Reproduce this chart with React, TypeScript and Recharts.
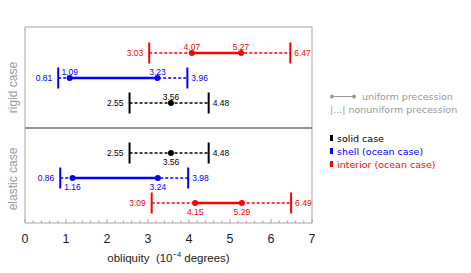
import React from "react";
import { ComposedChart, XAxis, YAxis, Scatter, ReferenceLine, ReferenceArea, ReferenceDot, Legend } from "recharts";

// rows from top to bottom: rigid case first, then elastic case
const rowKinds = ["interior", "shell", "solid", "solid", "shell", "interior"];
const rowCases = ["rigid", "rigid", "rigid", "elastic", "elastic", "elastic"];
const rowSlots = [1, 2, 3, 5, 6, 7];
const nonuniformLow = [3.03, 0.81, 2.55, 2.55, 0.86, 3.09];
const nonuniformHigh = [6.47, 3.96, 4.48, 4.48, 3.98, 6.49];
const uniformLow = [4.07, 1.09, 3.56, 3.56, 1.16, 4.15];
const uniformHigh = [5.27, 3.23, 3.56, 3.56, 3.24, 5.29];

const majorTicks = [0, 1, 2, 3, 4, 5, 6, 7];
const legendKinds = ["solid", "shell", "interior"];
const legendNames = ["solid case", "shell (ocean case)", "interior (ocean case)"];

const colors: Record<string, string> = { solid: "#000000", shell: "#0000ff", interior: "#ff0000" };
const frameGrey = "#a6a6a6";
const textGrey = "#999999";
const numFont = "Liberation Sans, Arial, sans-serif";

const allTicks = majorTicks.slice(0, -1).flatMap(v => [0, 0.2, 0.4, 0.6, 0.8].map(d => Math.round((v + d) * 10) / 10)).concat([7]);

const rows = rowSlots.map((slot, i) => ({
  slot,
  kind: rowKinds[i],
  caseName: rowCases[i],
  lo: nonuniformLow[i],
  hi: nonuniformHigh[i],
  ulo: uniformLow[i],
  uhi: uniformHigh[i],
}));

const BottomTick = (props: any) => {
  const { x, y, payload } = props;
  const v = payload.value;
  const major = Number.isInteger(v);
  return (
    <g>
      <line x1={x} x2={x} y1={y} y2={y - (major ? 4 : 2.5)} stroke={frameGrey} strokeWidth={1} />
      {major && (
        <text x={x} y={y + 20} textAnchor="middle" fontSize={12.5} fontFamily={numFont} fill="#222">
          {v}
        </text>
      )}
    </g>
  );
};

const TopTick = (props: any) => {
  const { x, y, payload } = props;
  const major = Number.isInteger(payload.value);
  return <line x1={x} x2={x} y1={y} y2={y + (major ? 4 : 2.5)} stroke={frameGrey} strokeWidth={1} />;
};

const AxisTitle = (props: any) => {
  const { viewBox } = props;
  const cx = viewBox.x + viewBox.width / 2;
  return (
    <text x={cx} y={viewBox.y + 39} textAnchor="middle" fontSize={11.5} fontFamily={numFont} fill="#222" style={{ whiteSpace: "pre" }}>
      obliquity  (10
      <tspan dy={-5} fontSize={7.5}>−4</tspan>
      <tspan dy={5}> degrees)</tspan>
    </text>
  );
};

const PanelLabel = (props: any) => {
  const { viewBox, text, shift } = props;
  const x = viewBox.x - 12;
  const y = viewBox.y + viewBox.height / 2 + shift;
  return (
    <text x={x} y={y} transform={`rotate(-90, ${x}, ${y})`} textAnchor="middle" dominantBaseline="central"
      fontSize={12} fontFamily={numFont} fill={textGrey}>
      {text}
    </text>
  );
};

const LegendBox = () => (
  <div style={{ fontFamily: "DejaVu Sans, sans-serif", fontSize: 9.5, lineHeight: "13px", color: textGrey, textAlign: "left" }}>
    <div style={{ display: "flex", alignItems: "center", height: 13 }}>
      <svg width={32} height={13}>
        <line x1={2} x2={24} y1={6.5} y2={6.5} stroke={textGrey} strokeWidth={1} />
        <circle cx={2} cy={6.5} r={2} fill={textGrey} />
        <circle cx={24} cy={6.5} r={2} fill={textGrey} />
      </svg>
      <span>uniform precession</span>
    </div>
    <div style={{ height: 13 }}>|...| nonuniform precession</div>
    <div style={{ height: 16 }} />
    {legendKinds.map((k, i) => (
      <div key={k} style={{ height: 13, color: colors[k], display: "flex", alignItems: "center" }}>
        <span style={{ display: "inline-block", width: 3, height: 6, background: colors[k], marginRight: 4 }} />
        <span>{legendNames[i]}</span>
      </div>
    ))}
  </div>
);

const Dot = (props: any) => <circle cx={props.cx} cy={props.cy} r={3} fill={props.fill} />;

export default function App() {
  const labelStyle = (color: string) => ({ fill: color, fontSize: 8.5, fontFamily: numFont });

  return (
    <div style={{ position: "absolute", left: 0, top: 0, width: 471, height: 273, background: "#fff" }}>
      <ComposedChart width={471} height={273} margin={{ top: 27, right: 159, bottom: 20, left: 25 }}>
        <XAxis
          type="number"
          dataKey="x"
          domain={[0, 7]}
          ticks={allTicks}
          interval={0}
          axisLine={false}
          tickLine={false}
          tickSize={0}
          tickMargin={0}
          height={30}
          tick={<BottomTick />}
          label={<AxisTitle />}
        />
        <XAxis
          xAxisId="top"
          orientation="top"
          type="number"
          domain={[0, 7]}
          ticks={allTicks}
          interval={0}
          axisLine={false}
          tickLine={false}
          tickSize={0}
          tickMargin={0}
          height={0}
          tick={<TopTick />}
        />
        <YAxis type="number" dataKey="y" domain={[-0.04, 7.8]} reversed hide />

        <ReferenceArea x1={0} x2={7} y1={-0.04} y2={4} fillOpacity={0} strokeOpacity={0}
          label={<PanelLabel text="rigid case" shift={10} />} />
        <ReferenceArea x1={0} x2={7} y1={4} y2={7.8} fillOpacity={0} strokeOpacity={0}
          label={<PanelLabel text="elastic case" shift={3.5} />} />
        <ReferenceArea x1={0} x2={7} y1={-0.04} y2={7.8} fill="none" fillOpacity={0} stroke={frameGrey} strokeWidth={1} />
        <ReferenceLine y={4} stroke="#707070" strokeWidth={1.6} />

        {rows.map((r, i) => {
          const c = colors[r.kind];
          return (
            <React.Fragment key={`row-${i}`}>
              <ReferenceLine segment={[{ x: r.lo, y: r.slot }, { x: r.hi, y: r.slot }]} stroke={c} strokeWidth={1.6} strokeDasharray="3 2" />
              {r.uhi > r.ulo && (
                <ReferenceLine segment={[{ x: r.ulo, y: r.slot }, { x: r.uhi, y: r.slot }]} stroke={c} strokeWidth={2.5} />
              )}
              <ReferenceLine segment={[{ x: r.lo, y: r.slot - 0.42 }, { x: r.lo, y: r.slot + 0.42 }]} stroke={c} strokeWidth={2} />
              <ReferenceLine segment={[{ x: r.hi, y: r.slot - 0.42 }, { x: r.hi, y: r.slot + 0.42 }]} stroke={c} strokeWidth={2} />
              <ReferenceDot x={r.lo} y={r.slot} r={0} stroke="none"
                label={{ value: r.lo.toFixed(2), position: "left", offset: 6, ...labelStyle(c) }} />
              <ReferenceDot x={r.hi} y={r.slot} r={0} stroke="none"
                label={{ value: r.hi.toFixed(2), position: "right", offset: 4, ...labelStyle(c) }} />
            </React.Fragment>
          );
        })}

        {rows.map((r, i) => {
          const c = colors[r.kind];
          const pts = r.uhi > r.ulo ? [r.ulo, r.uhi] : [r.ulo];
          return (
            <Scatter
              key={`pts-${i}`}
              name={r.kind}
              data={pts.map(x => ({ x, y: r.slot }))}
              fill={c}
              shape={<Dot />}
              isAnimationActive={false}
            />
          );
        })}

        {rows.map((r, i) => {
          const c = colors[r.kind];
          const pts = r.uhi > r.ulo ? [r.ulo, r.uhi] : [r.ulo];
          const above = r.caseName === "rigid";
          return pts.map((x, j) => (
            <ReferenceDot key={`lab-${i}-${j}`} x={x} y={r.slot} r={0} stroke="none"
              label={{ value: x.toFixed(2), position: above ? "top" : "bottom", offset: above ? 3.5 : 5.5, ...labelStyle(c) }} />
          ));
        })}

        <Legend
          layout="horizontal"
          verticalAlign="middle"
          align="center"
          content={<LegendBox />}
          wrapperStyle={{ position: "absolute", left: 330, top: 89.5, width: 140 }}
        />
      </ComposedChart>
    </div>
  );
}
